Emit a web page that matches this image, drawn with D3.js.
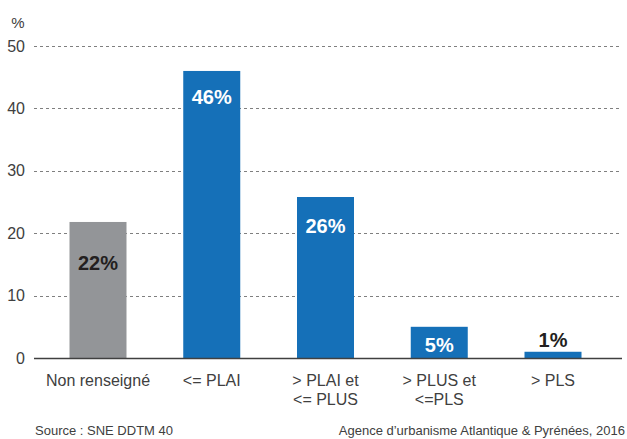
<!DOCTYPE html>
<html><head><meta charset="utf-8">
<script src="https://cdn.jsdelivr.net/npm/d3@7"></script>
<style>body{margin:0;background:#fff}svg{display:block;font-family:"Liberation Sans",Arial,sans-serif}</style>
</head><body><div id="c"></div>
<script>
const categories = ["Non renseigné", "<= PLAI", "> PLAI et\n<= PLUS", "> PLUS et\n<=PLS", "> PLS"];
const values = [21.8, 46.0, 25.8, 5.0, 1.0];
const valueLabels = ["22%", "46%", "26%", "5%", "1%"];
const yTicks = [0, 10, 20, 30, 40, 50];
const sourceText = "Source : SNE DDTM 40";
const creditText = "Agence d\u2019urbanisme Atlantique & Pyrénées, 2016";

const W = 627, H = 439;
const colors = ["#939598", "#1570b8", "#1570b8", "#1570b8", "#1570b8"];
const labelColors = ["#231f20", "#fff", "#fff", "#fff", "#231f20"];
const labelOffsets = [41, 26, 29, 18, -12]; // distance of label centre below bar top

const svg = d3.select("#c").append("svg").attr("width", W).attr("height", H);
const y = d3.scaleLinear().domain([0, 50]).range([358, 46]);
const x = d3.scalePoint().domain(categories).range([98, 553]);
const bw = 57;
const left = 34, right = 622;

// gridlines
svg.append("g").selectAll("line").data(yTicks.filter(d => d > 0)).join("line")
  .attr("x1", left).attr("x2", right)
  .attr("y1", d => Math.round(y(d)) + 0.5).attr("y2", d => Math.round(y(d)) + 0.5)
  .attr("stroke", "#7f7f7f").attr("stroke-width", 1).attr("stroke-dasharray", "3,3");

// y axis labels
const yAxis = d3.axisLeft(y).tickValues(yTicks).tickSize(0).tickPadding(0);
const ga = svg.append("g").attr("transform", `translate(25,0)`).call(yAxis);
ga.select(".domain").remove();
ga.selectAll("text").attr("font-size", 16).attr("fill", "#404040")
  .attr("font-family", "Liberation Sans, Arial, sans-serif");

svg.append("text").attr("x", 18).attr("y", 28).attr("text-anchor", "middle")
  .attr("font-size", 15).attr("fill", "#404040").text("%");

// bars
svg.append("g").selectAll("rect").data(values).join("rect")
  .attr("x", (d, i) => x(categories[i]) - bw / 2)
  .attr("width", bw)
  .attr("y", d => y(d))
  .attr("height", d => y(0) - y(d))
  .attr("fill", (d, i) => colors[i]);

// baseline
svg.append("line").attr("x1", left).attr("x2", right)
  .attr("y1", y(0) + 0.5).attr("y2", y(0) + 0.5)
  .attr("stroke", "#404040").attr("stroke-width", 1.3);

// value labels
svg.append("g").selectAll("text").data(values).join("text")
  .attr("x", (d, i) => x(categories[i]))
  .attr("y", (d, i) => y(d) + labelOffsets[i])
  .attr("dy", "0.35em")
  .attr("text-anchor", "middle")
  .attr("font-size", 20).attr("font-weight", "bold")
  .attr("fill", (d, i) => labelColors[i])
  .text((d, i) => valueLabels[i]);

// category labels
const cl = svg.append("g").selectAll("text").data(categories).join("text")
  .attr("x", d => x(d)).attr("y", 386)
  .attr("text-anchor", "middle").attr("font-size", 16).attr("fill", "#404040");
cl.each(function(d) {
  const t = d3.select(this);
  d.split("\n").forEach((ln, j) => {
    t.append("tspan").attr("x", x(d)).attr("dy", j === 0 ? 0 : 19).text(ln);
  });
});

// footer
svg.append("text").attr("x", 35).attr("y", 435).attr("font-size", 13)
  .attr("fill", "#404040").text(sourceText);
svg.append("text").attr("x", 625).attr("y", 435).attr("text-anchor", "end")
  .attr("font-size", 13).attr("fill", "#404040").text(creditText);
</script></body></html>
